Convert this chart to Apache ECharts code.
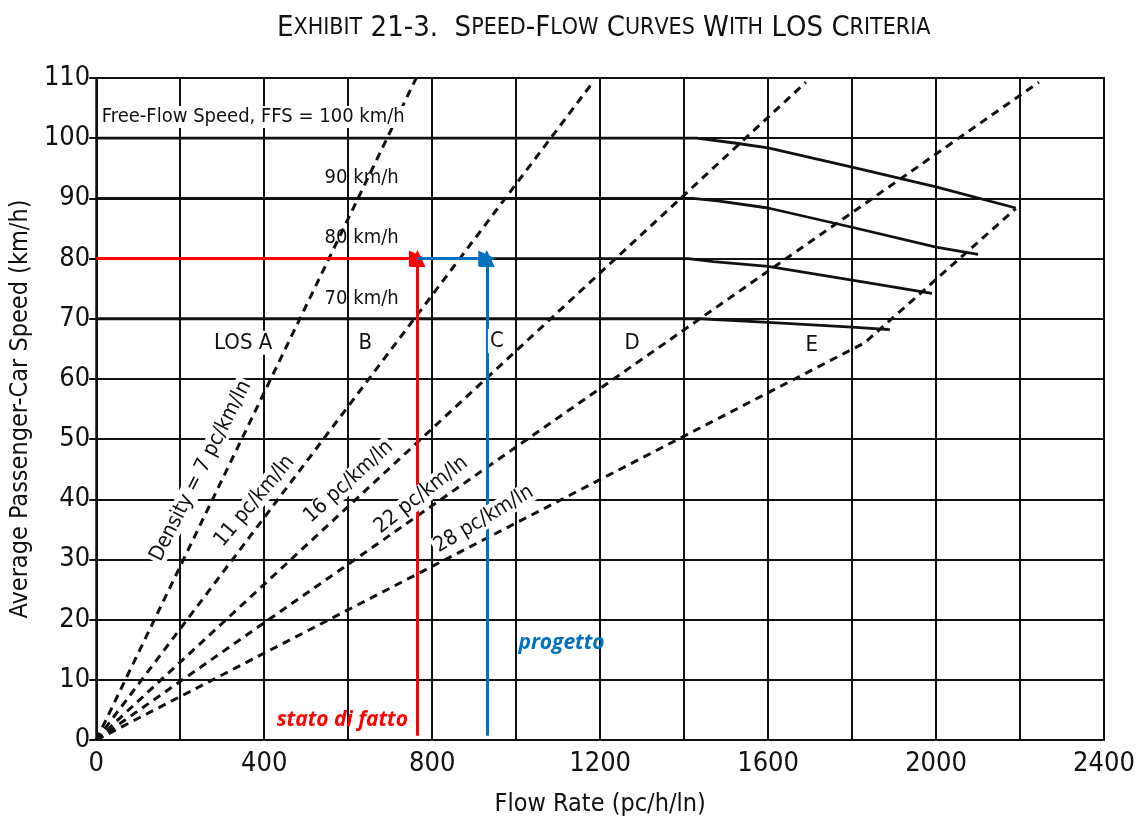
<!DOCTYPE html>
<html>
<head>
<meta charset="utf-8">
<script src="https://cdn.jsdelivr.net/npm/echarts@6/dist/echarts.min.js"></script>
<style>
html,body{margin:0;padding:0;background:#fff;}
#c{width:1144px;height:823px;}
</style>
</head>
<body>
<div id="c"></div>
<script>
// ---------------- data ----------------
const titleText = 'Exhibit 21-3.  Speed-Flow Curves With LOS Criteria';
const xName = 'Flow Rate (pc/h/ln)';
const yName = 'Average Passenger-Car Speed (km/h)';
const xTickLabels = [0, 400, 800, 1200, 1600, 2000, 2400];
const yTickLabels = [0, 10, 20, 30, 40, 50, 60, 70, 80, 90, 100, 110];

// speed-flow curves (flow pc/h/ln, speed km/h)
const ffs100 = [[0,100],[1430,100],[1520,99.2],[1600,98.4],[1800,95.2],[2000,91.9],[2190,88.4]];
const ffs90  = [[0,90],[1420,90],[1480,89.6],[1600,88.4],[1800,85.2],[2000,81.9],[2100,80.7]];
const ffs80  = [[0,80],[1410,80],[1470,79.5],[1600,78.7],[1800,76.4],[1990,74.2]];
const ffs70  = [[0,70],[1440,70],[1600,69.4],[1800,68.6],[1890,68.2]];

// density lines (as drawn)
const dens7  = [[0,0],[762,110]];
const dens11 = [[0,0],[1185,109.5]];
const dens16 = [[0,0],[1690,109.3]];
const dens22 = [[0,0],[2245,109.3]];
const dens28 = [[0,0],[1830,66],[2190,88.3]];

// annotations
const speedLevel = 80;
const flowStato = 765;
const flowProgetto = 930;

// text labels
const ffsLabels = ['Free-Flow Speed, FFS = 100 km/h', '90 km/h', '80 km/h', '70 km/h'];
const ffsLabelPos = [[374,103.5],[632,93.4],[632,83.4],[632,73.3]];
const losLabels = ['LOS A', 'B', 'C', 'D', 'E'];
const losLabelPos = [[350,66],[641,66],[954,66.3],[1276,66],[1704,65.6]];
const densLabels = ['Density = 7 pc/km/ln','11 pc/km/ln','16 pc/km/ln','22 pc/km/ln','28 pc/km/ln'];
const densLabelPos = [[249,44.7],[377,39.7],[601,42.9],[774,40.7],[923,36.7]];
const densLabelRot = [63,50,42,38,31];
const noteLabels = ['stato di fatto','progetto'];
const noteLabelPos = [[586,3.3],[1108,16.1]];

// ---------------- chart ----------------
const FONT = "'Liberation Sans Narrow','DejaVu Sans Condensed','Arial Narrow','Liberation Sans',sans-serif";
const NOTEFONT = "'Open Sans','Lato','Noto Sans',sans-serif";

function smallCaps(s){
  const parts = [];
  for (const ch of s){
    if (ch >= 'a' && ch <= 'z') parts.push('{s|' + ch.toUpperCase() + '}');
    else if (ch === ' ') parts.push('{b| }');
    else parts.push('{b|' + ch + '}');
  }
  return parts.join('');
}

const chart = echarts.init(document.getElementById('c'), null, {renderer:'canvas'});

function lineSeries(data, width, dashed){
  return {
    type:'line', data:data, symbol:'none', silent:true, z:dashed?3:4,
    lineStyle:{color:'#111', width:width, type: dashed ? [8,6] : 'solid', cap:'butt'},
    animation:false
  };
}

function textScatter(texts, pos, opts){
  return {
    type:'scatter', symbolSize:0, silent:true, z:opts.z || 6, animation:false,
    itemStyle:{opacity:1},
    data: texts.map((t,i)=>({
      value: pos[i],
      label:{
        show:true, position:'inside', formatter:t,
        rotate: opts.rot ? opts.rot[i] : 0,
        color: opts.colors ? opts.colors[i] : '#111',
        opacity:1,
        fontSize: opts.size, fontFamily: opts.font, fontWeight: opts.weight || 'normal',
        fontStyle: opts.style || 'normal',
        backgroundColor: opts.bg || 'transparent',
        padding: opts.pad || 0
      }
    }))
  };
}

const option = {
  backgroundColor:'#fff',
  animation:false,
  title:{
    text: smallCaps(titleText),
    left:272, top:9,
    textStyle:{
      fontWeight:'normal',
      rich:{
        b:{fontSize:29, fontFamily:FONT, color:'#111', fontWeight:'normal'},
        s:{fontSize:23, fontFamily:FONT, color:'#111', fontWeight:'normal'}
      }
    }
  },
  grid:{left:95, top:78, width:1009, height:662, show:true, borderColor:'#111', borderWidth:2, containLabel:false},
  xAxis:{
    type:'value', min:0, max:2400, interval:200,
    name:xName, nameLocation:'middle', nameGap:52,
    nameTextStyle:{fontSize:25, fontFamily:FONT, color:'#111'},
    axisLine:{show:true, lineStyle:{color:'#111', width:2}},
    axisTick:{show:false},
    axisLabel:{
      fontSize:27, fontFamily:FONT, color:'#111', margin:10,
      formatter:(v)=> xTickLabels.indexOf(v) >= 0 ? String(v) : ''
    },
    splitLine:{show:true, lineStyle:{color:'#111', width:2}}
  },
  yAxis:{
    type:'value', min:0, max:110, interval:10,
    name:yName, nameLocation:'middle', nameGap:60,
    nameTextStyle:{fontSize:25, fontFamily:FONT, color:'#111'},
    axisLine:{show:true, lineStyle:{color:'#111', width:2}},
    axisTick:{show:true, length:7, lineStyle:{color:'#111', width:2}},
    axisLabel:{
      fontSize:27, fontFamily:FONT, color:'#111', margin:6,
      formatter:(v)=> yTickLabels.indexOf(v) >= 0 ? String(v) : ''
    },
    splitLine:{show:true, lineStyle:{color:'#111', width:2}}
  },
  series:[
    lineSeries(dens7, 3, true),
    lineSeries(dens11, 3, true),
    lineSeries(dens16, 3, true),
    lineSeries(dens22, 3, true),
    lineSeries(dens28, 3, true),
    lineSeries(ffs100, 2.8, false),
    lineSeries(ffs90, 2.8, false),
    lineSeries(ffs80, 2.8, false),
    lineSeries(ffs70, 2.8, false),
    // red annotation
    {
      type:'line', data:[], silent:true, z:8,
      markLine:{
        silent:true, symbol:['none','triangle'], symbolSize:[16,17], animation:false,
        label:{show:false},
        lineStyle:{color:'#ff0000', width:3, type:'solid', opacity:1},
        data:[
          [{coord:[0,speedLevel]},{coord:[flowStato,speedLevel]}],
          [{coord:[flowStato,0.7]},{coord:[flowStato,speedLevel]}]
        ]
      }
    },
    // blue annotation
    {
      type:'line', data:[], silent:true, z:8,
      markLine:{
        silent:true, symbol:['none','triangle'], symbolSize:[16,17], animation:false,
        label:{show:false},
        lineStyle:{color:'#0070c0', width:3, type:'solid', opacity:1},
        data:[
          [{coord:[flowStato,speedLevel]},{coord:[flowProgetto,speedLevel]}],
          [{coord:[flowProgetto,0.7]},{coord:[flowProgetto,speedLevel]}]
        ]
      }
    },
    textScatter(ffsLabels.slice(0,1), ffsLabelPos.slice(0,1), {size:20, font:FONT, bg:'#fff', pad:[1,3]}),
    textScatter(ffsLabels.slice(1), ffsLabelPos.slice(1), {size:20, font:FONT}),
    textScatter(losLabels, losLabelPos, {size:22, font:FONT, bg:'#fff', pad:[1,2]}),
    textScatter(densLabels, densLabelPos, {size:21, font:FONT, bg:'#fff', pad:[0,2], rot:densLabelRot}),
    textScatter(noteLabels, noteLabelPos, {size:21, font:NOTEFONT, weight:'bold', style:'italic', colors:['#ff0000','#0070c0'], z:9})
  ]
};
chart.setOption(option);
</script>
</body>
</html>
